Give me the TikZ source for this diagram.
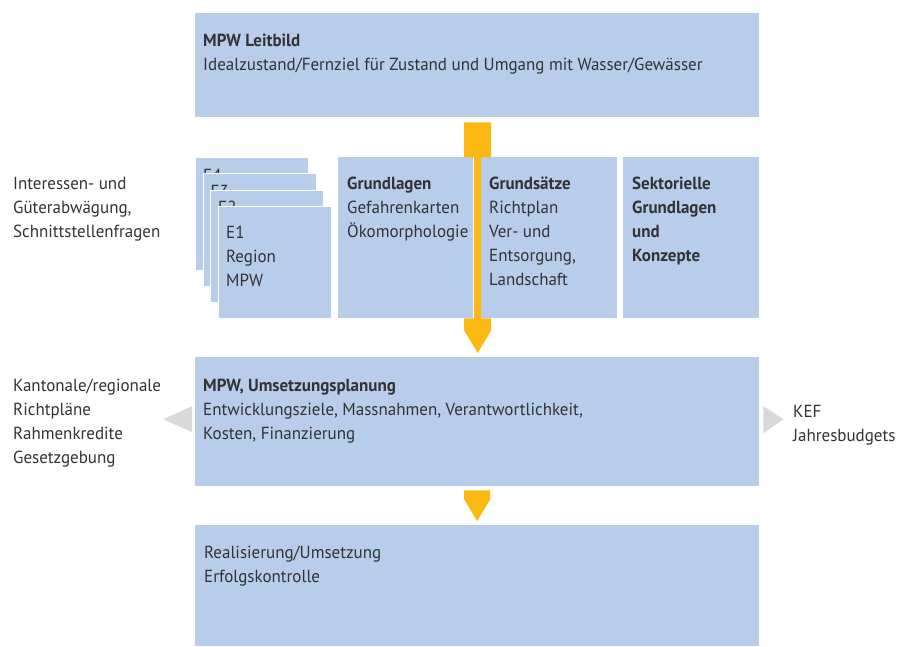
\documentclass[tikz,border=0pt]{standalone}
\usepackage{fontspec}
\setmainfont[FakeStretch=0.97]{PT Sans}
\usetikzlibrary{calc}
\definecolor{boxblue}{HTML}{B8CDE9}
\definecolor{arroworange}{HTML}{FDB913}
\definecolor{arrowgrey}{HTML}{D9D9D9}
\definecolor{txtc}{HTML}{333333}
\tikzset{
  box/.style={fill=boxblue, draw=none, inner sep=0pt, anchor=north west},
  stackbox/.style={box, draw=white, line width=1pt, minimum width=113pt, minimum height=112.5pt},
  lbl/.style={anchor=base west, inner sep=0pt, text=txtc, align=left, font=\fontsize{17.5}{24}\selectfont},
  orangearrow/.style={fill=arroworange, draw=none},
  greyarrow/.style={fill=arrowgrey, draw=none}
}
\begin{document}
\begin{tikzpicture}[x=1pt, y=-1pt]
\useasboundingbox (0,0) rectangle (909,646);
% main boxes
\node[box, minimum width=564pt, minimum height=104pt] (top) at (195,13) {};
\node[box, minimum width=564pt, minimum height=129pt] (mid) at (195,357) {};
\node[box, minimum width=564pt, minimum height=121pt] (bot) at (195,525) {};
% middle row
\node[box, minimum width=135pt, minimum height=161pt] (grl) at (338,157) {};
\node[box, minimum width=137pt, minimum height=161pt] (grs) at (480,157) {};
\node[box, minimum width=136pt, minimum height=161pt] (sek) at (623,157) {};
% stacked region boxes (anchor = baseline of last line)
\node[stackbox] (e4) at (195,157) {};
\node[lbl] (e4t) at (203,181) {E4};
\node[stackbox] (e3) at (202.5,173) {};
\node[lbl] (e3t) at (210.5,197) {E3};
\node[stackbox] (e2) at (210,189.5) {};
\node[lbl] (e2t) at (218,213.5) {E2};
\node[stackbox] (e1) at (217.5,205.5) {};
\node[lbl] (e1t) at (226,286) {E1\\Region\\MPW};
% texts
\node[lbl] (topt) at (203,70) {\textbf{MPW Leitbild}\\Idealzustand/Fernziel für Zustand und Umgang mit Wasser/Gewässer};
\node[lbl] (grlt) at (347,237) {\textbf{Grundlagen}\\Gefahrenkarten\\Ökomorphologie};
\node[lbl] (grst) at (489,285) {\textbf{Grundsätze}\\Richtplan\\Ver- und\\Entsorgung,\\Landschaft};
\node[lbl] (sekt) at (632,261) {\textbf{Sektorielle}\\\textbf{Grundlagen}\\\textbf{und}\\\textbf{Konzepte}};
\node[lbl] (midt) at (203,439) {\textbf{MPW, Umsetzungsplanung}\\Entwicklungsziele, Massnahmen, Verantwortlichkeit,\\Kosten, Finanzierung};
\node[lbl] (bott) at (204,582) {Realisierung/Umsetzung\\Erfolgskontrolle};
\node[lbl] (intt) at (13,237) {Interessen- und\\Güterabwägung,\\Schnittstellenfragen};
\node[lbl] (kant) at (13,463) {Kantonale/regionale\\Richtpläne\\Rahmenkredite\\Gesetzgebung};
\node[lbl] (keft) at (793,441) {KEF\\Jahresbudgets};
% orange arrow top -> mid
\fill[orangearrow] ($(top.south)+(-13,5)$) -- ++(27,0) -- ++(0,35) -- ++(-10,0) -- ++(0,161)
  -- ++(10,0) -- ++(0,12) -- ($(mid.north)+(0.5,-4)$) -- ($(top.south)+(-13,213)$)
  -- ++(0,-12) -- ++(10,0) -- ++(0,-161) -- ++(-10,0) -- cycle;
% orange arrow mid -> bot
\fill[orangearrow] ($(mid.south)+(-13,4)$) -- ++(26,0) -- ++(0,9) -- ($(bot.north)+(0,-4)$)
  -- ($(mid.south)+(-13,13)$) -- cycle;
% grey arrows
\fill[greyarrow] ($(mid.west)+(-3,-15.5)$) -- ($(mid.west)+(-3,10.5)$) -- ($(mid.west)+(-32,-2.5)$) -- cycle;
\fill[greyarrow] ($(mid.east)+(4,-15.5)$) -- ($(mid.east)+(4,11.5)$) -- ($(mid.east)+(24,-2.5)$) -- cycle;
\end{tikzpicture}
\end{document}
